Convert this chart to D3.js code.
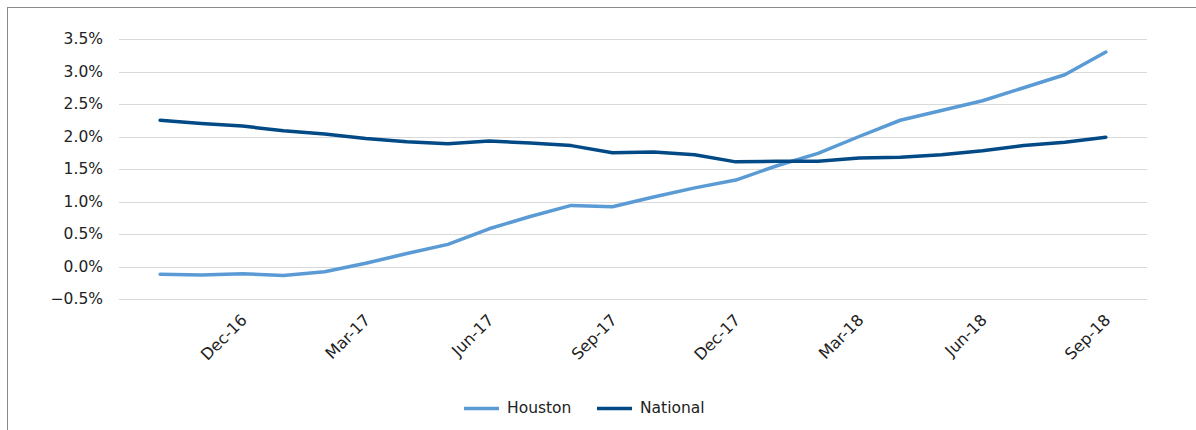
<!DOCTYPE html>
<html>
<head>
<meta charset="utf-8">
<script src="https://cdn.jsdelivr.net/npm/d3@7"></script>
<style>
  html, body { margin: 0; padding: 0; background: #fff; }
  svg { display: block; font-family: "DejaVu Sans", sans-serif; }
</style>
</head>
<body>
<svg id="chart" width="1196" height="430"></svg>
<script>
// Monthly year-over-year growth, Oct-16 through Sep-18
const months = ["Oct-16","Nov-16","Dec-16","Jan-17","Feb-17","Mar-17","Apr-17","May-17","Jun-17",
  "Jul-17","Aug-17","Sep-17","Oct-17","Nov-17","Dec-17","Jan-18","Feb-18","Mar-18","Apr-18",
  "May-18","Jun-18","Jul-18","Aug-18","Sep-18"];
const houston = [-0.12,-0.13,-0.11,-0.14,-0.08,0.05,0.20,0.34,0.58,0.77,0.94,0.92,
  1.07,1.21,1.33,1.55,1.74,2.00,2.25,2.40,2.55,2.75,2.95,3.30];
const national = [2.25,2.20,2.16,2.09,2.04,1.97,1.92,1.89,1.93,1.90,1.86,1.75,
  1.76,1.72,1.61,1.62,1.62,1.67,1.68,1.72,1.78,1.86,1.91,1.99];
const yTicks = [-0.5,0,0.5,1.0,1.5,2.0,2.5,3.0,3.5];
const labeledMonths = ["Dec-16","Mar-17","Jun-17","Sep-17","Dec-17","Mar-18","Jun-18","Sep-18"];
const seriesNames = ["Houston","National"];
const seriesColors = ["#5b9bd5","#024a86"];

const svg = d3.select("#chart");
const plot = { left: 119, right: 1147, top: 39, bottom: 299 };
const font = "'DejaVu Sans', sans-serif";

// outer frame
svg.append("rect")
  .attr("x", 7.5).attr("y", 7.5)
  .attr("width", 1300).attr("height", 600)
  .attr("fill", "none").attr("stroke", "#8a8a8a").attr("stroke-width", 1);

const x = d3.scalePoint().domain(months).range([plot.left, plot.right]).padding(1);
const y = d3.scaleLinear().domain([-0.5, 3.5]).range([plot.bottom, plot.top]);

// horizontal gridlines
svg.append("g").selectAll("line").data(yTicks).join("line")
  .attr("x1", plot.left).attr("x2", plot.right)
  .attr("y1", d => Math.round(y(d)) + 0.5).attr("y2", d => Math.round(y(d)) + 0.5)
  .attr("stroke", "#d9d9d9").attr("stroke-width", 1);

// y axis labels
const yAxis = d3.axisLeft(y).tickValues(yTicks)
  .tickFormat(d => d3.format(".1f")(d) + "%").tickSize(0).tickPadding(0);
svg.append("g").attr("transform", "translate(103,0)").call(yAxis)
  .call(g => g.select(".domain").remove())
  .call(g => g.selectAll("text").attr("font-size", 15.5).attr("fill", "#222")
    .attr("font-family", font));

// x axis labels, rotated
const xAxis = d3.axisBottom(x).tickValues(labeledMonths).tickSize(0).tickPadding(0);
svg.append("g").attr("transform", "translate(0,300)").call(xAxis)
  .call(g => g.select(".domain").remove())
  .call(g => g.selectAll("text")
    .attr("font-size", 16).attr("fill", "#222")
    .attr("font-family", font)
    .attr("text-anchor", "end")
    .attr("dy", "0")
    .attr("transform", "translate(5,21) rotate(-45)"));

// series lines
const line = d3.line().x((d, i) => x(months[i])).y(d => y(d));
[houston, national].forEach((vals, k) => {
  svg.append("path").datum(vals)
    .attr("d", line)
    .attr("fill", "none")
    .attr("stroke", seriesColors[k])
    .attr("stroke-width", 3.5)
    .attr("stroke-linejoin", "round")
    .attr("stroke-linecap", "round");
});

// legend
const legendX = [464, 597];
const legend = svg.append("g");
seriesNames.forEach((name, k) => {
  legend.append("line")
    .attr("x1", legendX[k]).attr("x2", legendX[k] + 35)
    .attr("y1", 408.5).attr("y2", 408.5)
    .attr("stroke", seriesColors[k]).attr("stroke-width", 3.5);
  legend.append("text")
    .attr("x", legendX[k] + 43).attr("y", 408)
    .attr("dy", "0.35em")
    .attr("font-size", 15.5).attr("fill", "#222")
    .attr("font-family", font)
    .text(name);
});
</script>
</body>
</html>
